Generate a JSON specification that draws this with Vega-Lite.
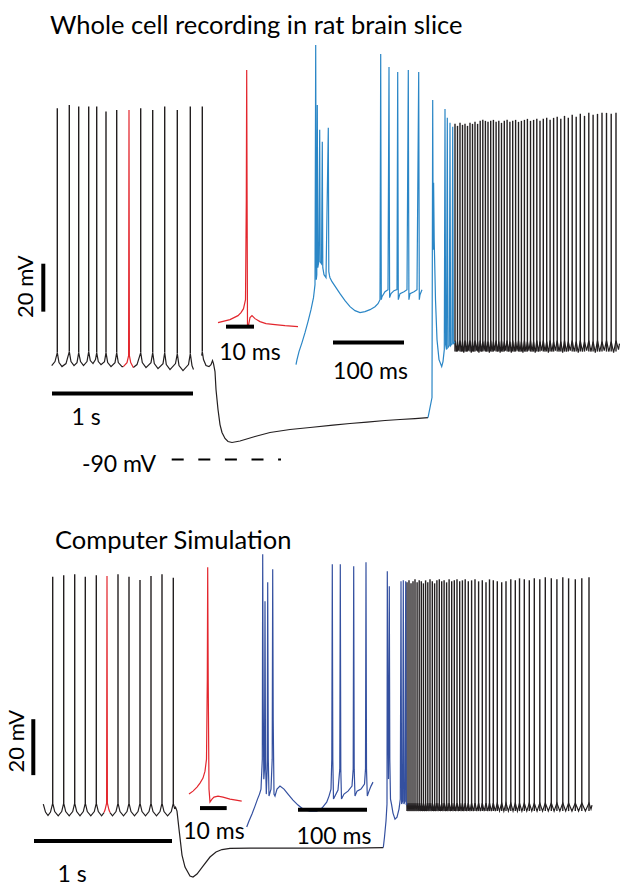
{
"$schema": "https://vega.github.io/schema/vega-lite/v6.json",
"width": 629, "height": 887,
"autosize": {"type": "fit", "contains": "padding"},
"padding": 0,
"background": "white",
"config": {"view": {"stroke": null}},
"datasets": {
"blackTrace": [
{"s":"a","x":51.7,"y":366},{"s":"a","x":55,"y":362},{"s":"a","x":57.3,"y":353},{"s":"a","x":59,"y":363},{"s":"a","x":62,"y":367},{"s":"a","x":66,"y":364},{"s":"a","x":69.3,"y":352},{"s":"a","x":71,"y":362},{"s":"a","x":74,"y":366},{"s":"a","x":77,"y":363},{"s":"a","x":78.7,"y":353},{"s":"a","x":80.5,"y":362},{"s":"a","x":83.5,"y":366},{"s":"a","x":87,"y":362},{"s":"a","x":88.7,"y":352},{"s":"a","x":90.3,"y":361},{"s":"a","x":93,"y":364},{"s":"a","x":95.5,"y":360},{"s":"a","x":96.7,"y":353},{"s":"a","x":98.3,"y":362},{"s":"a","x":101,"y":365},{"s":"a","x":104.5,"y":362},{"s":"a","x":106,"y":353},{"s":"a","x":107.7,"y":363},{"s":"a","x":111,"y":367},{"s":"a","x":115,"y":363},{"s":"a","x":116.7,"y":353},{"s":"a","x":118.3,"y":363},{"s":"a","x":122,"y":367},{"s":"a","x":123.3,"y":367},
{"s":"b","x":133.3,"y":368},{"s":"b","x":137,"y":365},{"s":"b","x":140.7,"y":353},{"s":"b","x":142.3,"y":363},{"s":"b","x":146,"y":368},{"s":"b","x":151,"y":363},{"s":"b","x":152.7,"y":353},{"s":"b","x":154.3,"y":364},{"s":"b","x":158,"y":369},{"s":"b","x":163,"y":364},{"s":"b","x":164.7,"y":353},{"s":"b","x":166.3,"y":365},{"s":"b","x":170,"y":370},{"s":"b","x":175.5,"y":364},{"s":"b","x":177.3,"y":354},{"s":"b","x":179,"y":366},{"s":"b","x":183,"y":371},{"s":"b","x":188.5,"y":365},{"s":"b","x":190.3,"y":354},{"s":"b","x":192,"y":366},{"s":"b","x":193.5,"y":370},
{"s":"c","x":201.7,"y":356},{"s":"c","x":202.3,"y":352},{"s":"c","x":203.5,"y":360},{"s":"c","x":206,"y":366},{"s":"c","x":209,"y":367},{"s":"c","x":211,"y":365},{"s":"c","x":212.5,"y":361},{"s":"c","x":213.5,"y":364},{"s":"c","x":215,"y":372},{"s":"c","x":216,"y":390},{"s":"c","x":218,"y":410},{"s":"c","x":220,"y":425},{"s":"c","x":222,"y":433},{"s":"c","x":225,"y":439},{"s":"c","x":228,"y":442},{"s":"c","x":232,"y":443},{"s":"c","x":240,"y":441.5},{"s":"c","x":255,"y":437},{"s":"c","x":270,"y":433},{"s":"c","x":290,"y":430},{"s":"c","x":310,"y":428},{"s":"c","x":333,"y":425.7},{"s":"c","x":350,"y":424},{"s":"c","x":367,"y":422.7},{"s":"c","x":385,"y":421},{"s":"c","x":400,"y":420},{"s":"c","x":415,"y":419},{"s":"c","x":428,"y":418},
{"s":"d","x":455,"y":341},{"s":"d","x":456.25,"y":352},{"s":"d","x":457.5,"y":342},{"s":"d","x":458.75,"y":351},{"s":"d","x":460,"y":341},{"s":"d","x":461.25,"y":352},{"s":"d","x":462.5,"y":342},{"s":"d","x":463.75,"y":353},{"s":"d","x":465,"y":341},{"s":"d","x":466.25,"y":352},{"s":"d","x":467.5,"y":342},{"s":"d","x":468.75,"y":351},{"s":"d","x":470,"y":341},{"s":"d","x":471.25,"y":353},{"s":"d","x":472.5,"y":342},{"s":"d","x":473.75,"y":352},{"s":"d","x":475,"y":341},{"s":"d","x":476.3,"y":351},{"s":"d","x":477.6,"y":342},{"s":"d","x":478.9,"y":353},{"s":"d","x":480.2,"y":341},{"s":"d","x":481.5,"y":352},{"s":"d","x":482.8,"y":342},{"s":"d","x":484.1,"y":351},{"s":"d","x":485.4,"y":341},{"s":"d","x":486.7,"y":352},{"s":"d","x":488,"y":342},{"s":"d","x":489.35,"y":353},{"s":"d","x":490.7,"y":341},{"s":"d","x":492.05,"y":352},{"s":"d","x":493.4,"y":342},{"s":"d","x":494.75,"y":351},{"s":"d","x":496.1,"y":341},{"s":"d","x":497.45,"y":352},{"s":"d","x":498.8,"y":342},{"s":"d","x":500.15,"y":353},{"s":"d","x":501.5,"y":341},{"s":"d","x":502.9,"y":352},{"s":"d","x":504.3,"y":342},{"s":"d","x":505.7,"y":351},{"s":"d","x":507.1,"y":341},{"s":"d","x":508.5,"y":352},{"s":"d","x":509.9,"y":342},{"s":"d","x":511.3,"y":353},{"s":"d","x":512.7,"y":341},{"s":"d","x":514.15,"y":352},{"s":"d","x":515.6,"y":342},{"s":"d","x":517.05,"y":351},{"s":"d","x":518.5,"y":341},{"s":"d","x":519.95,"y":352},{"s":"d","x":521.4,"y":342},{"s":"d","x":522.9,"y":353},{"s":"d","x":524.4,"y":341},{"s":"d","x":525.9,"y":352},{"s":"d","x":527.4,"y":342},{"s":"d","x":528.95,"y":351},{"s":"d","x":530.5,"y":341},{"s":"d","x":532.05,"y":352},{"s":"d","x":533.6,"y":342},{"s":"d","x":535.2,"y":353},{"s":"d","x":536.8,"y":341},{"s":"d","x":538.4,"y":352},{"s":"d","x":540,"y":342},{"s":"d","x":541.65,"y":351},{"s":"d","x":543.3,"y":341},{"s":"d","x":545,"y":352},{"s":"d","x":546.7,"y":342},{"s":"d","x":548.4,"y":353},{"s":"d","x":550.1,"y":341},{"s":"d","x":551.85,"y":352},{"s":"d","x":553.6,"y":342},{"s":"d","x":555.4,"y":351},{"s":"d","x":557.2,"y":341},{"s":"d","x":559,"y":352},{"s":"d","x":560.8,"y":342},{"s":"d","x":562.65,"y":353},{"s":"d","x":564.5,"y":341},{"s":"d","x":566.4,"y":352},{"s":"d","x":568.3,"y":342},{"s":"d","x":570.25,"y":351},{"s":"d","x":572.2,"y":341},{"s":"d","x":574.2,"y":352},{"s":"d","x":576.2,"y":342},{"s":"d","x":578.25,"y":353},{"s":"d","x":580.3,"y":341},{"s":"d","x":582.4,"y":352},{"s":"d","x":584.5,"y":342},{"s":"d","x":586.65,"y":351},{"s":"d","x":588.8,"y":341},{"s":"d","x":590.95,"y":352},{"s":"d","x":593.1,"y":342},{"s":"d","x":595.3,"y":353},{"s":"d","x":597.5,"y":341},{"s":"d","x":599.75,"y":352},{"s":"d","x":602,"y":342},{"s":"d","x":604.25,"y":351},{"s":"d","x":606.5,"y":341},{"s":"d","x":608.85,"y":352},{"s":"d","x":611.2,"y":342},{"s":"d","x":613.6,"y":353},{"s":"d","x":616,"y":341},{"s":"d","x":618.5,"y":350},{"s":"d","x":619.5,"y":344},
{"s":"e","x":43.3,"y":805},{"s":"e","x":45.5,"y":813},{"s":"e","x":48,"y":816.5},{"s":"e","x":50.5,"y":813},{"s":"e","x":52.7,"y":804},{"s":"e","x":54.7,"y":812.5},{"s":"e","x":58.2,"y":816.7},{"s":"e","x":61.7,"y":812.5},{"s":"e","x":63.7,"y":804},{"s":"e","x":65.7,"y":812.5},{"s":"e","x":69.2,"y":816.7},{"s":"e","x":72.7,"y":812.5},{"s":"e","x":74.7,"y":804},{"s":"e","x":76.7,"y":812.5},{"s":"e","x":80,"y":816.7},{"s":"e","x":83.3,"y":812.5},{"s":"e","x":85.3,"y":804},{"s":"e","x":87.3,"y":812.5},{"s":"e","x":90.8,"y":816.7},{"s":"e","x":94.3,"y":812.5},{"s":"e","x":96.3,"y":804},{"s":"e","x":98.3,"y":812.5},{"s":"e","x":101.6,"y":816.7},{"s":"e","x":104,"y":813.5},
{"s":"f","x":110,"y":813.5},{"s":"f","x":112.5,"y":816.7},{"s":"f","x":116,"y":812.5},{"s":"f","x":118,"y":804},{"s":"f","x":120,"y":812.5},{"s":"f","x":123.5,"y":816.7},{"s":"f","x":127,"y":812.5},{"s":"f","x":129,"y":804},{"s":"f","x":131,"y":812.5},{"s":"f","x":134.5,"y":816.7},{"s":"f","x":138,"y":812.5},{"s":"f","x":140,"y":804},{"s":"f","x":142,"y":812.5},{"s":"f","x":145.5,"y":816.7},{"s":"f","x":149,"y":812.5},{"s":"f","x":151,"y":804},{"s":"f","x":153,"y":812.5},{"s":"f","x":156.5,"y":816.7},{"s":"f","x":160,"y":812.5},{"s":"f","x":162,"y":804},{"s":"f","x":164,"y":812.5},{"s":"f","x":167.6,"y":816.7},{"s":"f","x":171.3,"y":812.5},{"s":"f","x":173.3,"y":804},{"s":"f","x":174.5,"y":809},{"s":"f","x":175.5,"y":808},{"s":"f","x":177,"y":812},{"s":"f","x":179,"y":830},{"s":"f","x":182,"y":856},{"s":"f","x":185,"y":868},{"s":"f","x":190,"y":877},{"s":"f","x":193,"y":878},{"s":"f","x":197,"y":875},{"s":"f","x":203,"y":867},{"s":"f","x":210,"y":858},{"s":"f","x":216,"y":853},{"s":"f","x":222,"y":850.5},{"s":"f","x":230,"y":849.3},{"s":"f","x":250,"y":849},{"s":"f","x":300,"y":849},{"s":"f","x":350,"y":849},{"s":"f","x":383.3,"y":848.5},
{"s":"g","x":407,"y":804},{"s":"g","x":408,"y":812},{"s":"g","x":409,"y":804},{"s":"g","x":410,"y":812},{"s":"g","x":411,"y":804},{"s":"g","x":412,"y":812},{"s":"g","x":413,"y":804},{"s":"g","x":414,"y":812},{"s":"g","x":415,"y":804},{"s":"g","x":416.05,"y":812},{"s":"g","x":417.1,"y":804},{"s":"g","x":418.15,"y":812},{"s":"g","x":419.2,"y":804},{"s":"g","x":420.25,"y":812},{"s":"g","x":421.3,"y":804},{"s":"g","x":422.35,"y":812},{"s":"g","x":423.4,"y":804},{"s":"g","x":424.5,"y":812},{"s":"g","x":425.6,"y":804},{"s":"g","x":426.7,"y":812},{"s":"g","x":427.8,"y":804},{"s":"g","x":428.9,"y":812},{"s":"g","x":430,"y":804},{"s":"g","x":431.15,"y":812},{"s":"g","x":432.3,"y":804},{"s":"g","x":433.45,"y":812},{"s":"g","x":434.6,"y":804},{"s":"g","x":435.75,"y":812},{"s":"g","x":436.9,"y":804},{"s":"g","x":438.1,"y":812},{"s":"g","x":439.3,"y":804},{"s":"g","x":440.5,"y":812},{"s":"g","x":441.7,"y":804},{"s":"g","x":442.9,"y":812},{"s":"g","x":444.1,"y":804},{"s":"g","x":445.35,"y":812},{"s":"g","x":446.6,"y":804},{"s":"g","x":447.85,"y":812},{"s":"g","x":449.1,"y":804},{"s":"g","x":450.4,"y":812},{"s":"g","x":451.7,"y":804},{"s":"g","x":453,"y":812},{"s":"g","x":454.3,"y":804},{"s":"g","x":455.65,"y":812},{"s":"g","x":457,"y":804},{"s":"g","x":458.35,"y":812},{"s":"g","x":459.7,"y":804},{"s":"g","x":461.05,"y":812},{"s":"g","x":462.4,"y":804},{"s":"g","x":463.8,"y":812},{"s":"g","x":465.2,"y":804},{"s":"g","x":466.75,"y":812},{"s":"g","x":468.3,"y":804},{"s":"g","x":469.95,"y":812},{"s":"g","x":471.6,"y":804},{"s":"g","x":473.3,"y":812},{"s":"g","x":475,"y":804},{"s":"g","x":476.8,"y":812},{"s":"g","x":478.6,"y":804},{"s":"g","x":480.45,"y":812},{"s":"g","x":482.3,"y":804},{"s":"g","x":484.15,"y":812},{"s":"g","x":486,"y":804},{"s":"g","x":487.75,"y":812},{"s":"g","x":489.5,"y":804},{"s":"g","x":491.4,"y":812},{"s":"g","x":493.3,"y":804},{"s":"g","x":495.3,"y":812},{"s":"g","x":497.3,"y":804},{"s":"g","x":499.5,"y":812},{"s":"g","x":501.7,"y":804},{"s":"g","x":503.85,"y":812},{"s":"g","x":506,"y":804},{"s":"g","x":508.4,"y":812},{"s":"g","x":510.8,"y":804},{"s":"g","x":513.05,"y":812},{"s":"g","x":515.3,"y":804},{"s":"g","x":517.4,"y":812},{"s":"g","x":519.5,"y":804},{"s":"g","x":521.9,"y":812},{"s":"g","x":524.3,"y":804},{"s":"g","x":526.8,"y":812},{"s":"g","x":529.3,"y":804},{"s":"g","x":531.8,"y":812},{"s":"g","x":534.3,"y":804},{"s":"g","x":537.05,"y":812},{"s":"g","x":539.8,"y":804},{"s":"g","x":542.55,"y":812},{"s":"g","x":545.3,"y":804},{"s":"g","x":548.3,"y":812},{"s":"g","x":551.3,"y":804},{"s":"g","x":554.1,"y":812},{"s":"g","x":556.9,"y":804},{"s":"g","x":559.85,"y":812},{"s":"g","x":562.8,"y":804},{"s":"g","x":565.7,"y":812},{"s":"g","x":568.6,"y":804},{"s":"g","x":571.95,"y":812},{"s":"g","x":575.3,"y":804},{"s":"g","x":578.55,"y":812},{"s":"g","x":581.8,"y":804},{"s":"g","x":585.4,"y":812},{"s":"g","x":589,"y":804},{"s":"g","x":591,"y":810},{"s":"g","x":592,"y":806}
],
"blackSpikes": [
{"x":57.3,"y":108.3,"y2":353},{"x":69.3,"y":105,"y2":352},{"x":78.7,"y":106.7,"y2":353},{"x":88.7,"y":106.7,"y2":352},{"x":96.7,"y":106.7,"y2":353},{"x":106,"y":111.7,"y2":353},{"x":116.7,"y":110,"y2":353},{"x":140.7,"y":108.3,"y2":353},{"x":152.7,"y":110,"y2":353},{"x":164.7,"y":106.7,"y2":353},{"x":177.3,"y":110,"y2":354},{"x":190.3,"y":106.7,"y2":354},{"x":202.3,"y":106.7,"y2":352},
{"x":455,"y":124,"y2":352},{"x":457.5,"y":126,"y2":352},{"x":460,"y":123,"y2":352},{"x":462.5,"y":125,"y2":352},{"x":465,"y":124,"y2":352},{"x":467.5,"y":126,"y2":352},{"x":470,"y":123,"y2":352},{"x":472.5,"y":124,"y2":352},{"x":475,"y":122,"y2":352},{"x":477.6,"y":124,"y2":352},{"x":480.2,"y":121,"y2":352},{"x":482.8,"y":120,"y2":352},{"x":485.4,"y":121,"y2":352},{"x":488,"y":122,"y2":352},{"x":490.7,"y":121,"y2":352},{"x":493.4,"y":120,"y2":352},{"x":496.1,"y":122,"y2":352},{"x":498.8,"y":121,"y2":352},{"x":501.5,"y":123,"y2":352},{"x":504.3,"y":121,"y2":352},{"x":507.1,"y":120,"y2":352},{"x":509.9,"y":122,"y2":352},{"x":512.7,"y":121,"y2":352},{"x":515.6,"y":120,"y2":352},{"x":518.5,"y":122,"y2":352},{"x":521.4,"y":121,"y2":352},{"x":524.4,"y":120,"y2":352},{"x":527.4,"y":119,"y2":352},{"x":530.5,"y":121,"y2":352},{"x":533.6,"y":120,"y2":352},{"x":536.8,"y":119,"y2":352},{"x":540,"y":121,"y2":352},{"x":543.3,"y":119,"y2":352},{"x":546.7,"y":118,"y2":352},{"x":550.1,"y":120,"y2":352},{"x":553.6,"y":118,"y2":352},{"x":557.2,"y":117,"y2":352},{"x":560.8,"y":119,"y2":352},{"x":564.5,"y":116,"y2":352},{"x":568.3,"y":118,"y2":352},{"x":572.2,"y":115,"y2":352},{"x":576.2,"y":117,"y2":352},{"x":580.3,"y":114,"y2":352},{"x":584.5,"y":116,"y2":352},{"x":588.8,"y":113,"y2":352},{"x":593.1,"y":115,"y2":352},{"x":597.5,"y":114,"y2":352},{"x":602,"y":113,"y2":352},{"x":606.5,"y":113,"y2":352},{"x":611.2,"y":114,"y2":352},{"x":616,"y":113,"y2":352},
{"x":52.7,"y":577.3,"y2":804},{"x":63.7,"y":576,"y2":804},{"x":74.7,"y":575,"y2":804},{"x":85.3,"y":577.3,"y2":804},{"x":96.3,"y":576,"y2":804},{"x":118,"y":575,"y2":804},{"x":129,"y":577.3,"y2":804},{"x":140,"y":580.7,"y2":804},{"x":151,"y":576.7,"y2":804},{"x":162,"y":575,"y2":804},{"x":173.3,"y":578.3,"y2":804},
{"x":407,"y":583,"y2":812},{"x":409,"y":581,"y2":812},{"x":411,"y":584,"y2":812},{"x":413,"y":582,"y2":812},{"x":415,"y":580,"y2":812},{"x":417.1,"y":583,"y2":812},{"x":419.2,"y":581,"y2":812},{"x":421.3,"y":582,"y2":812},{"x":423.4,"y":584,"y2":812},{"x":425.6,"y":581,"y2":812},{"x":427.8,"y":583,"y2":812},{"x":430,"y":580,"y2":812},{"x":432.3,"y":582,"y2":812},{"x":434.6,"y":584,"y2":812},{"x":436.9,"y":581,"y2":812},{"x":439.3,"y":580,"y2":812},{"x":441.7,"y":582,"y2":812},{"x":444.1,"y":581,"y2":812},{"x":446.6,"y":583,"y2":812},{"x":449.1,"y":580,"y2":812},{"x":451.7,"y":582,"y2":812},{"x":454.3,"y":581,"y2":812},{"x":457,"y":580,"y2":812},{"x":459.7,"y":582,"y2":812},{"x":462.4,"y":581,"y2":812},{"x":465.2,"y":580,"y2":812},{"x":468.3,"y":582,"y2":812},{"x":471.6,"y":581,"y2":812},{"x":475,"y":580,"y2":812},{"x":478.6,"y":582,"y2":812},{"x":482.3,"y":581,"y2":812},{"x":486,"y":583,"y2":812},{"x":489.5,"y":580,"y2":812},{"x":493.3,"y":581,"y2":812},{"x":497.3,"y":582,"y2":812},{"x":501.7,"y":583,"y2":812},{"x":506,"y":582,"y2":812},{"x":510.8,"y":580,"y2":812},{"x":515.3,"y":581,"y2":812},{"x":519.5,"y":579,"y2":812},{"x":524.3,"y":580,"y2":812},{"x":529.3,"y":581,"y2":812},{"x":534.3,"y":579,"y2":812},{"x":539.8,"y":580,"y2":812},{"x":545.3,"y":578,"y2":812},{"x":551.3,"y":579,"y2":812},{"x":556.9,"y":580,"y2":812},{"x":562.8,"y":578,"y2":812},{"x":568.6,"y":579,"y2":812},{"x":575.3,"y":580,"y2":812},{"x":581.8,"y":579,"y2":812},{"x":589,"y":578,"y2":812}
],
"redTrace": [
{"s":"i1","x":218,"y":323},{"s":"i1","x":222,"y":322},{"s":"i1","x":226,"y":321},{"s":"i1","x":230,"y":320},{"s":"i1","x":234,"y":318},{"s":"i1","x":238,"y":316},{"s":"i1","x":241,"y":313},{"s":"i1","x":243.5,"y":309},{"s":"i1","x":245.5,"y":300},{"s":"i1","x":246.3,"y":200},{"s":"i1","x":246.7,"y":70},{"s":"i1","x":247.1,"y":200},{"s":"i1","x":247.5,"y":328},{"s":"i1","x":248.5,"y":326},{"s":"i1","x":250,"y":318},{"s":"i1","x":252,"y":316},{"s":"i1","x":255,"y":319},{"s":"i1","x":260,"y":322},{"s":"i1","x":266,"y":324},{"s":"i1","x":275,"y":325},{"s":"i1","x":285,"y":326},{"s":"i1","x":298,"y":327},
{"s":"m1","x":123.3,"y":367},{"s":"m1","x":127,"y":363},{"s":"m1","x":128.6,"y":356},{"s":"m1","x":129,"y":110},{"s":"m1","x":129.4,"y":356},{"s":"m1","x":130.7,"y":363},{"s":"m1","x":133.3,"y":368},
{"s":"i2","x":189,"y":795},{"s":"i2","x":193,"y":792},{"s":"i2","x":197,"y":788},{"s":"i2","x":200,"y":784},{"s":"i2","x":203,"y":779},{"s":"i2","x":205,"y":772},{"s":"i2","x":206.5,"y":760},{"s":"i2","x":207.3,"y":680},{"s":"i2","x":207.7,"y":568},{"s":"i2","x":208.2,"y":680},{"s":"i2","x":209,"y":790},{"s":"i2","x":210,"y":803},{"s":"i2","x":212,"y":800},{"s":"i2","x":214,"y":798},{"s":"i2","x":218,"y":797},{"s":"i2","x":223,"y":798},{"s":"i2","x":230,"y":800},{"s":"i2","x":236,"y":801},{"s":"i2","x":241.7,"y":802},
{"s":"m2","x":104,"y":813.5},{"s":"m2","x":105,"y":811},{"s":"m2","x":106.6,"y":804},{"s":"m2","x":107,"y":576.7},{"s":"m2","x":107.4,"y":804},{"s":"m2","x":109,"y":811},{"s":"m2","x":110,"y":813.5}
],
"blueExp": [
{"s":"l","x":296,"y":365},{"s":"l","x":297,"y":360},{"s":"l","x":299,"y":352},{"s":"l","x":302,"y":343},{"s":"l","x":305,"y":333},{"s":"l","x":308,"y":322},{"s":"l","x":311,"y":310},{"s":"l","x":313.5,"y":298},{"s":"l","x":315,"y":285},{"s":"l","x":315.7,"y":45},{"s":"l","x":316.3,"y":280},{"s":"l","x":316.8,"y":275},{"s":"l","x":317.3,"y":105},{"s":"l","x":317.8,"y":268},{"s":"l","x":318.8,"y":262},{"s":"l","x":319.7,"y":130},{"s":"l","x":320.2,"y":262},{"s":"l","x":321.5,"y":264},{"s":"l","x":322.3,"y":142},{"s":"l","x":322.8,"y":268},{"s":"l","x":324,"y":275},{"s":"l","x":326,"y":278},{"s":"l","x":328.3,"y":128},{"s":"l","x":328.8,"y":272},{"s":"l","x":329.5,"y":276},{"s":"l","x":330,"y":278},{"s":"l","x":332,"y":282},{"s":"l","x":336,"y":288},{"s":"l","x":340,"y":294},{"s":"l","x":345,"y":301},{"s":"l","x":350,"y":307},{"s":"l","x":355,"y":311},{"s":"l","x":360,"y":313},{"s":"l","x":365,"y":312},{"s":"l","x":370,"y":310},{"s":"l","x":375,"y":307},{"s":"l","x":378,"y":304},{"s":"l","x":380,"y":300},{"s":"l","x":380.7,"y":54},{"s":"l","x":381.3,"y":300},{"s":"l","x":382,"y":297},{"s":"l","x":385,"y":292},{"s":"l","x":388,"y":290},{"s":"l","x":389,"y":67},{"s":"l","x":389.6,"y":298},{"s":"l","x":391,"y":294},{"s":"l","x":394,"y":291},{"s":"l","x":397,"y":290},{"s":"l","x":397.7,"y":72},{"s":"l","x":398.3,"y":300},{"s":"l","x":400,"y":294},{"s":"l","x":404,"y":292},{"s":"l","x":407,"y":290},{"s":"l","x":408.3,"y":70},{"s":"l","x":408.9,"y":300},{"s":"l","x":410,"y":294},{"s":"l","x":414,"y":292},{"s":"l","x":417,"y":290},{"s":"l","x":418.7,"y":72},{"s":"l","x":419.3,"y":300},{"s":"l","x":420,"y":295},{"s":"l","x":422,"y":290},
{"s":"r","x":428,"y":418},{"s":"r","x":430,"y":408},{"s":"r","x":432,"y":398},{"s":"r","x":432.7,"y":100},{"s":"r","x":433.2,"y":250},{"s":"r","x":433.6,"y":183},{"s":"r","x":434.2,"y":240},{"s":"r","x":435.5,"y":300},{"s":"r","x":437,"y":340},{"s":"r","x":439,"y":360},{"s":"r","x":441.7,"y":367},{"s":"r","x":443,"y":362},{"s":"r","x":444.3,"y":350},{"s":"r","x":445,"y":109},{"s":"r","x":445.6,"y":345},{"s":"r","x":446.5,"y":350},{"s":"r","x":447.3,"y":118},{"s":"r","x":447.9,"y":348},{"s":"r","x":449.3,"y":346},{"s":"r","x":450,"y":123},{"s":"r","x":450.6,"y":346},{"s":"r","x":452,"y":344},{"s":"r","x":452.7,"y":127},{"s":"r","x":453.3,"y":344},{"s":"r","x":455,"y":342}
],
"blueSim": [
{"s":"l","x":246.7,"y":828},{"s":"l","x":249,"y":822},{"s":"l","x":252,"y":815},{"s":"l","x":255,"y":807},{"s":"l","x":257.5,"y":800},{"s":"l","x":259.5,"y":795},{"s":"l","x":261,"y":790},{"s":"l","x":262.3,"y":760},{"s":"l","x":262.7,"y":555},{"s":"l","x":263.2,"y":700},{"s":"l","x":263.8,"y":780},{"s":"l","x":264.5,"y":770},{"s":"l","x":265,"y":602},{"s":"l","x":265.5,"y":760},{"s":"l","x":266.3,"y":795},{"s":"l","x":267.2,"y":770},{"s":"l","x":267.7,"y":583},{"s":"l","x":268.3,"y":760},{"s":"l","x":269,"y":797},{"s":"l","x":271,"y":790},{"s":"l","x":272.2,"y":760},{"s":"l","x":272.7,"y":570},{"s":"l","x":273.2,"y":720},{"s":"l","x":274,"y":795},{"s":"l","x":275,"y":797},{"s":"l","x":277,"y":790},{"s":"l","x":280,"y":787},{"s":"l","x":284,"y":790},{"s":"l","x":288,"y":795},{"s":"l","x":293,"y":801},{"s":"l","x":298,"y":806},{"s":"l","x":303,"y":810},{"s":"l","x":310,"y":812},{"s":"l","x":316.7,"y":812},{"s":"l","x":322,"y":809},{"s":"l","x":326.7,"y":803},{"s":"l","x":329,"y":797},{"s":"l","x":331,"y":790},{"s":"l","x":331.8,"y":760},{"s":"l","x":332.3,"y":565},{"s":"l","x":332.8,"y":760},{"s":"l","x":333.5,"y":800},{"s":"l","x":335,"y":797},{"s":"l","x":338,"y":791},{"s":"l","x":339.8,"y":770},{"s":"l","x":340.3,"y":565},{"s":"l","x":340.8,"y":770},{"s":"l","x":341.5,"y":800},{"s":"l","x":344,"y":795},{"s":"l","x":348,"y":792},{"s":"l","x":352,"y":787},{"s":"l","x":353.2,"y":770},{"s":"l","x":353.7,"y":567},{"s":"l","x":354.2,"y":770},{"s":"l","x":355,"y":797},{"s":"l","x":357,"y":792},{"s":"l","x":361,"y":790},{"s":"l","x":364.5,"y":785},{"s":"l","x":365.5,"y":770},{"s":"l","x":366,"y":563},{"s":"l","x":366.5,"y":770},{"s":"l","x":367.3,"y":797},{"s":"l","x":369,"y":792},{"s":"l","x":371,"y":787},{"s":"l","x":373,"y":783},
{"s":"r","x":383.3,"y":848.5},{"s":"r","x":384.5,"y":838},{"s":"r","x":386,"y":822},{"s":"r","x":387,"y":805},{"s":"r","x":387.3,"y":572},{"s":"r","x":387.8,"y":700},{"s":"r","x":388.5,"y":780},{"s":"r","x":389.3,"y":587},{"s":"r","x":389.8,"y":760},{"s":"r","x":390.5,"y":800},{"s":"r","x":391.5,"y":805},{"s":"r","x":393,"y":814},{"s":"r","x":395,"y":820},{"s":"r","x":397,"y":818},{"s":"r","x":399,"y":810},{"s":"r","x":400.3,"y":800},{"s":"r","x":401,"y":582},{"s":"r","x":401.6,"y":805},{"s":"r","x":402.6,"y":802},{"s":"r","x":403.3,"y":581},{"s":"r","x":403.9,"y":805},{"s":"r","x":405,"y":802},{"s":"r","x":405.7,"y":582},{"s":"r","x":406.3,"y":806},{"s":"r","x":407,"y":804}
],
"bars": [
{"x":43.3,"x2":43.3,"y":264,"y2":312},{"x":52,"x2":193,"y":394,"y2":394},{"x":226,"x2":254,"y":327,"y2":327},{"x":333,"x2":404,"y":343,"y2":343},
{"x":33.3,"x2":33.3,"y":720,"y2":776},{"x":34,"x2":172,"y":842,"y2":842},{"x":200,"x2":226.7,"y":809,"y2":809},{"x":298,"x2":367,"y":810.7,"y2":810.7}
],
"dash": [{"x":171.7,"x2":281,"y":460}],
"titles": [
{"x":50,"y":26,"t":"Whole cell recording in rat brain slice"},
{"x":55,"y":542,"t":"Computer Simulation"}
],
"labels": [
{"x":250,"y":353,"t":"10 ms"},{"x":370.5,"y":372,"t":"100 ms"},{"x":86,"y":418,"t":"1 s"},
{"x":214,"y":833,"t":"10 ms"},{"x":334,"y":838,"t":"100 ms"},{"x":72,"y":876,"t":"1 s"}
],
"rlabels": [{"x":156,"y":466,"t":"-90 mV"}],
"vlabels": [{"x":26,"y":287,"t":"20 mV"},{"x":17,"y":742,"t":"20 mV"}]
},
"encoding": {
"x": {"field": "x", "type": "quantitative", "scale": {"domain": [0, 629], "nice": false, "zero": false}, "axis": null},
"y": {"field": "y", "type": "quantitative", "scale": {"domain": [0, 887], "nice": false, "zero": false, "reverse": true}, "axis": null}
},
"layer": [
{"data": {"name": "blackTrace"}, "mark": {"type": "line", "color": "#231f20", "strokeWidth": 1.2}, "encoding": {"detail": {"field": "s"}}},
{"data": {"name": "blackSpikes"}, "mark": {"type": "rule", "color": "#231f20", "strokeWidth": 1.4}, "encoding": {"y2": {"field": "y2"}}},
{"data": {"name": "redTrace"}, "mark": {"type": "line", "color": "#e3262d", "strokeWidth": 1.2}, "encoding": {"detail": {"field": "s"}}},
{"data": {"name": "blueExp"}, "mark": {"type": "line", "color": "#2a86c6", "strokeWidth": 1.2}, "encoding": {"detail": {"field": "s"}}},
{"data": {"name": "blueSim"}, "mark": {"type": "line", "color": "#3450a0", "strokeWidth": 1.2}, "encoding": {"detail": {"field": "s"}}},
{"data": {"name": "bars"}, "mark": {"type": "rule", "color": "#000000", "strokeWidth": 4}, "encoding": {"x2": {"field": "x2"}, "y2": {"field": "y2"}}},
{"data": {"name": "dash"}, "mark": {"type": "rule", "color": "#000000", "strokeWidth": 1.8, "strokeDash": [12, 14.6]}, "encoding": {"x2": {"field": "x2"}}},
{"data": {"name": "titles"}, "mark": {"type": "text", "font": "Lato", "fontSize": 25.5, "align": "left", "color": "#000000"}, "encoding": {"text": {"field": "t"}}},
{"data": {"name": "labels"}, "mark": {"type": "text", "font": "Lato", "fontSize": 23, "align": "center", "color": "#000000"}, "encoding": {"text": {"field": "t"}}},
{"data": {"name": "rlabels"}, "mark": {"type": "text", "font": "Lato", "fontSize": 23, "align": "right", "color": "#000000"}, "encoding": {"text": {"field": "t"}}},
{"data": {"name": "vlabels"}, "mark": {"type": "text", "font": "Lato", "fontSize": 22, "align": "center", "baseline": "middle", "angle": 270, "color": "#000000"}, "encoding": {"text": {"field": "t"}}}
]
}
